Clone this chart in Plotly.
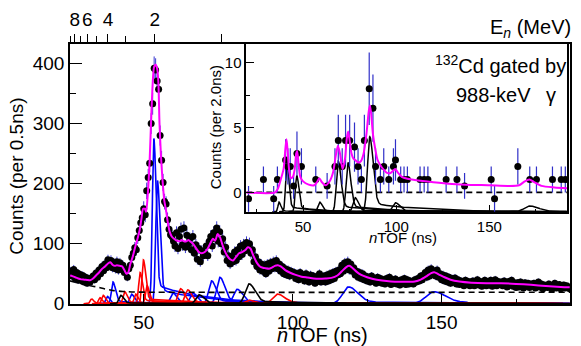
import numpy as np
import plotly.graph_objects as go

# ---------------- main spectrum (0.5 ns bins) ----------------
tof_start = 25.5
tof_step = 0.5
counts = [
    54, 46, 57, 42, 52, 39, 49, 41, 47, 36,
    44, 34, 42, 36, 43, 46, 40, 51, 44, 56,
    50, 62, 55, 66, 60, 73, 64, 72, 60, 68,
    58, 70, 56, 68, 60, 64, 52, 56, 44, 58,
    64, 77, 84, 93, 90, 110, 122, 135, 143, 158,
    148, 188, 210, 234, 300, 333, 392, 389, 371, 357,
    280, 239, 202, 170, 166, 140, 124, 115, 112, 104,
    96, 118, 92, 112, 124, 98, 126, 94, 114, 100,
    108, 90, 112, 84, 98, 74, 92, 70, 88, 80,
    84, 96, 80, 104, 112, 96, 118, 108, 126, 104,
    120, 100, 108, 86, 94, 72, 80, 66, 78, 70,
    86, 72, 90, 78, 96, 82, 98, 88, 102, 92,
    100, 84, 90, 70, 78, 62, 70, 56, 66, 54,
    64, 50, 66, 54, 68, 58, 70, 60, 72, 58,
    66, 54, 62, 50, 58, 48, 56, 46, 54, 50,
    52, 42, 50, 40, 52, 44, 48, 38, 50, 42,
    36, 48, 40, 46, 34, 44, 38, 50, 36, 44,
    46, 36, 48, 38, 50, 40, 52, 42, 54, 48,
    56, 50, 64, 54, 68, 58, 70, 56, 66, 54,
    60, 48, 54, 44, 52, 42, 50, 40, 46, 38,
    44, 36, 46, 38, 42, 34, 44, 36, 42, 34,
    40, 33, 42, 35, 44, 32, 40, 34, 41, 33,
    38, 31, 40, 34, 42, 32, 40, 33, 38, 36,
    33, 40, 36, 42, 38, 46, 40, 48, 52, 44,
    56, 46, 58, 50, 54, 46, 56, 44, 50, 40,
    48, 38, 46, 36, 44, 34, 42, 36, 43, 33,
    40, 32, 38, 34, 30, 39, 33, 37, 30, 36,
    38, 30, 36, 40, 31, 37, 29, 35, 39, 30,
    37, 31, 39, 29, 35, 40, 30, 37, 32, 36,
    30, 38, 33, 28, 37, 31, 39, 29, 35, 27,
    35, 28, 36, 30, 26, 35, 29, 34, 27, 33,
    29, 34, 26, 32, 36, 28, 33, 25, 31, 30,
    27, 33, 28, 24, 31, 34, 26, 30, 32, 25,
    29, 31, 26, 30, 28, 25,
]

# total fit (magenta), sampled
fit_t = [25.3, 26, 27, 28, 29, 30, 31, 32, 33, 34, 35, 36, 37, 38, 38.8, 39.5, 40.3, 41, 42,
         42.8, 43.5, 44.2, 44.8, 45.5, 46.3, 47, 47.8, 48.6, 49.2, 49.8, 50.4, 50.8, 51.4, 52,
         52.6, 53.1, 53.5, 54.0, 54.5, 54.9, 55.3, 55.8, 56.4, 56.9, 57.5, 58.1, 58.7, 59.4,
         60.2, 61, 62, 62.8, 63.5, 64.3, 65, 65.8, 66.5, 67.5, 68.5, 69.5, 70.5, 71.5, 72.5,
         73.2, 74, 74.8, 75.5, 76.3, 77, 78, 79, 80, 81, 82, 83, 84, 85, 85.8, 86.8, 88, 89,
         90, 91, 92, 93, 94, 95, 96, 97.5, 99, 101, 103, 105, 107, 109, 111, 113, 115, 116.5,
         118, 119, 120, 121.5, 123, 125, 127, 130, 133, 136, 139, 141, 143, 145, 146.5, 147.5,
         149, 151, 153, 156, 160, 165, 170, 175, 180, 185, 190, 193]
fit_v = [47, 46, 44, 42, 40.5, 40, 39.5, 39, 42, 47, 52, 58, 62, 67, 69, 65, 63, 64, 63,
         62, 56, 50, 52, 66, 78, 92, 106, 122, 140, 158, 158, 153, 185, 240,
         320, 375, 395, 398, 392, 370, 300, 245, 200, 172, 155, 135, 120, 112,
         108, 105, 104, 106, 104, 104, 106, 103, 100, 93, 86, 84, 86, 92, 102,
         108, 105, 116, 112, 100, 90, 80, 74, 72, 78, 84, 86, 89, 94, 92, 80, 68, 62,
         60, 59, 58, 60, 63, 64, 62, 56, 52, 48, 45, 43.5, 42, 41.5, 42, 43, 47, 54,
         61, 63, 60, 53, 48, 44, 41, 38.5, 37, 36.5, 36.5, 37, 40, 46, 51, 52.5,
         49, 44, 40, 37, 35, 34, 34, 33, 31.5, 29.5, 28, 27.5]

# background (dashed)
bg_t = [25.25, 28, 31, 34.2, 37, 38.8, 40, 43, 46, 50, 60, 193.1]
bg_v = [38, 34.5, 31, 28, 24.5, 22.8, 21.8, 20.3, 19.6, 19.2, 19, 19]

# fit components: centroid (ns), height (counts), width (ns)
blue_t0 = [37.8, 39.7, 45.9, 53.4, 54.6, 59.8, 66.5, 72.8, 75.6, 81.4, 118.8, 147.4]
blue_amp = [12, 36, 16, 275, 205, 18, 18, 38, 44, 24, 28, 20]
blue_sig = [0.5, 0.55, 0.6, 0.5, 0.55, 0.8, 0.9, 1.0, 1.05, 1.2, 2.0, 2.6]

red_t0 = [32.5, 35.3, 36.4, 43.6, 47.3, 48.8, 49.9, 51.1, 62.4, 64.8, 85.3, 94.9]
red_amp = [8, 10, 14, 20, 16, 52, 73, 30, 25, 23, 6, 16]
red_sig = [0.45, 0.45, 0.5, 0.55, 0.5, 0.5, 0.5, 0.5, 0.85, 0.9, 1.2, 1.6]

black_t0 = [42.3, 68.6, 85.4]
black_amp = [14, 15, 33]
black_sig = [0.6, 1.0, 1.3]

# ---------------- inset: 132Cd gated by 988-keV gamma (2 ns bins) ----------------
ins_t = [20.7, 28.7, 34.2, 36.2, 40.6, 41.8, 43.1, 44.9, 46.7, 49.1, 56.8, 62.9, 67.1, 68.9,
         71.0, 72.8, 75.0, 77.6, 79.5, 81.3, 82.9, 85.5, 87.5, 88.9, 91.5, 93.3, 96.0, 98.5,
         99.6, 102.4, 104.2, 106.0, 112.8, 115.0, 117.0, 126.8, 132.6, 136.7, 151.0, 152.8,
         165.3, 171.7, 175.3, 183.9, 188.6, 190.8]
ins_c = [-0.5, 1, -0.5, 1, 2.5, 2, 2, 0.5, 3, 2, 1, 0.5, 2, 4,
         2, 4, 4, 3.5, 2, 1, 4, 8, 6.5, 2, 1, 2, 1, 2,
         2.5, 1, 1, 1, 1, 1, 1, 1, 1, 0.5, 1, -0.5,
         2, 1, 1, 1, 1, 1]
ins_err = [1, 1, 1, 1, 1.6, 1.4, 1.4, 1, 1.7, 1.4, 1, 1, 1.4, 2,
           1.4, 2, 2, 1.9, 1.4, 1, 2, 2.8, 2.6, 1.4, 1, 1.4, 1, 1.4,
           1.6, 1, 1, 1, 1, 1, 1, 1, 1, 1, 1, 1,
           1.4, 1, 1, 1, 1, 1]

ins_fit_t = [19.5, 35, 36.5, 38, 39.5, 40.5, 41.1, 41.8, 42.6, 43.5, 44.5, 45.5, 46.3, 46.8,
             47.5, 48.5, 50, 53, 56, 57.5, 58.7, 60, 62, 64, 66, 67.5, 68.7, 69.8, 71.2, 72.5,
             73.5, 74.2, 75, 76, 77, 78, 79.5, 81, 82.5, 84, 85.3, 85.9, 86.6, 87.5, 88.8, 90,
             91.5, 93, 95, 97, 98.5, 99.5, 101, 103, 106, 110, 120, 130, 140, 150, 160, 166,
             169, 171.5, 174, 178, 185, 191.7]
ins_fit_v = [0, 0, 0.3, 1.0, 1.8, 3.4, 4.1, 3.0, 1.6, 1.1, 1.2, 1.8, 3.0, 3.2,
             2.3, 1.2, 0.85, 0.6, 0.55, 0.8, 1.1, 0.8, 0.55, 0.8, 1.5, 2.8, 3.6, 3.0, 1.8, 2.6,
             4.2, 4.7, 4.0, 3.0, 2.6, 2.5, 2.3, 2.4, 3.0, 4.5, 6.3, 6.7, 6.0, 4.5, 3.3, 2.5,
             2.1, 1.8, 1.5, 1.5, 1.7, 1.8, 1.5, 1.2, 1.05, 0.95, 0.78, 0.65, 0.58, 0.55, 0.5, 0.55,
             0.85, 1.0, 0.8, 0.5, 0.38, 0.32]

ins_comp_t0 = [37.1, 41.3, 46.6, 58.9, 68.9, 74.1, 77.9, 85.8, 99.6, 171.8]
ins_comp_amp = [0.75, 3.7, 2.8, 0.75, 3.9, 3.8, 1.1, 5.8, 0.7, 0.45]
ins_comp_sig = [0.6, 0.7, 0.75, 0.9, 1.0, 1.0, 1.1, 1.2, 1.5, 3.0]
ins_comp_base = -1.5

# top axis: neutron energy labels
E_major = [8, 6, 4, 2, 1]
E_major_txt = ["8", "6", "4", "2", " "]
E_minor = [9, 7, 5, 3]
FLIGHT_NS = 76.0  # t(ns) * sqrt(E/MeV) for the flight path

FONT = "Liberation Sans, Arial, Helvetica, sans-serif"
MAIN_X = [25.25, 193.1]
MAIN_Y = [-0.5, 432.5]
INS_X = [19.5, 191.7]
INS_Y = [-1.55, 11.45]


def line_shape(t, t0, amp, sig):
    d = t - t0
    left = np.exp(-0.5 * (d / sig) ** 2)
    right = 0.88 * np.exp(-0.5 * (d / (1.5 * sig)) ** 2) + 0.12 * np.exp(-np.clip(d, 0, None) / (0.3 * t0))
    return amp * np.where(d < 0, left, right)


def comp_xy(t0s, amps, sigs, xmax, base=0.0, step=0.05):
    xs, ys = [], []
    for t0, a, s in zip(t0s, amps, sigs):
        g = np.arange(t0 - 6 * s, xmax, step)
        xs.extend(g.tolist() + [None])
        ys.extend((base + line_shape(g, t0, a, s)).tolist() + [None])
    return xs, ys


fig = go.Figure()

tof = tof_start + tof_step * np.arange(len(counts))
cnt = np.array(counts, dtype=float)

for t0s, amps, sigs, col in [(blue_t0, blue_amp, blue_sig, "#0000ff"),
                             (red_t0, red_amp, red_sig, "#ff0000"),
                             (black_t0, black_amp, black_sig, "#000000")]:
    xs, ys = comp_xy(t0s, amps, sigs, MAIN_X[1])
    fig.add_trace(go.Scatter(x=xs, y=ys, mode="lines", line=dict(color=col, width=1.6),
                             hoverinfo="skip", showlegend=False, xaxis="x", yaxis="y"))

fig.add_trace(go.Scatter(x=bg_t, y=bg_v, mode="lines", line=dict(color="black", width=1.6, dash="6px,4px", shape="spline"),
                         showlegend=False, xaxis="x", yaxis="y"))

fig.add_trace(go.Scatter(x=tof, y=cnt, mode="markers",
                         marker=dict(color="black", size=7),
                         error_y=dict(type="data", array=np.sqrt(cnt), color="#3a3ad0", thickness=1, width=0),
                         showlegend=False, xaxis="x", yaxis="y"))

fig.add_trace(go.Scatter(x=fit_t, y=fit_v, mode="lines", line=dict(color="#ff00ff", width=2, shape="spline", smoothing=0.7),
                         showlegend=False, xaxis="x", yaxis="y"))

# top axis dummy trace
fig.add_trace(go.Scatter(x=[MAIN_X[0]], y=[-100], mode="markers", marker=dict(opacity=0),
                         showlegend=False, hoverinfo="skip", xaxis="x2", yaxis="y"))

# ---- inset ----
xs, ys = comp_xy(ins_comp_t0, ins_comp_amp, ins_comp_sig, INS_X[1], base=ins_comp_base, step=0.1)
fig.add_trace(go.Scatter(x=xs, y=ys, mode="lines", line=dict(color="black", width=1.5),
                         showlegend=False, hoverinfo="skip", xaxis="x3", yaxis="y3"))
fig.add_trace(go.Scatter(x=INS_X, y=[0, 0], mode="lines", line=dict(color="black", width=1.6, dash="6px,4px"),
                         showlegend=False, xaxis="x3", yaxis="y3"))
fig.add_trace(go.Scatter(x=ins_t, y=ins_c, mode="markers",
                         marker=dict(color="black", size=7),
                         error_y=dict(type="data", array=ins_err, color="#3030c8", thickness=1.2, width=0),
                         showlegend=False, xaxis="x3", yaxis="y3"))
fig.add_trace(go.Scatter(x=ins_fit_t, y=ins_fit_v, mode="lines",
                         line=dict(color="#ff00ff", width=2, shape="spline", smoothing=0.7),
                         showlegend=False, xaxis="x3", yaxis="y3"))

ax_common = dict(showline=True, linecolor="black", linewidth=1.5, mirror=True, showgrid=False,
                 zeroline=False, ticks="inside", tickcolor="black", tickwidth=1)

e_major_t = [FLIGHT_NS / np.sqrt(e) for e in E_major]
e_minor_t = [FLIGHT_NS / np.sqrt(e) for e in E_minor]

fig.update_layout(
    width=581, height=346,
    margin=dict(l=70, r=9, t=34, b=42),
    paper_bgcolor="white", plot_bgcolor="white",
    font=dict(family=FONT, color="black"),
    showlegend=False,
    xaxis=dict(**ax_common, domain=[0, 1], range=MAIN_X, anchor="y",
               tickvals=[50, 100, 150], ticklen=10, tickfont=dict(size=19), tickangle=0,
               minor=dict(tickvals=[75, 125, 175], ticklen=5, ticks="inside", tickcolor="black")),
    yaxis=dict(**ax_common, domain=[0, 1], range=MAIN_Y, anchor="x",
               tickvals=[0, 100, 200, 300, 400], ticklen=12, tickfont=dict(size=19),
               minor=dict(tickvals=[50, 150, 250, 350], ticklen=6, ticks="inside", tickcolor="black")),
    xaxis2=dict(overlaying="x", side="top", range=MAIN_X, anchor="y", showgrid=False, zeroline=False,
                showline=False, ticks="outside", ticklen=9, tickcolor="black", tickwidth=1,
                tickvals=e_major_t, ticktext=E_major_txt, tickfont=dict(size=19), tickangle=0,
                minor=dict(tickvals=e_minor_t, ticklen=7, ticks="outside", tickcolor="black")),
    xaxis3=dict(**ax_common, domain=[0.3526, 0.994], range=INS_X, anchor="y3",
                tickvals=[50, 100, 150], ticklen=8, tickfont=dict(size=15), tickangle=0,
                minor=dict(tickvals=[25, 75, 125, 175], ticklen=4, ticks="inside", tickcolor="black")),
    yaxis3=dict(**ax_common, domain=[0.352, 1.0], range=INS_Y, anchor="x3",
                tickvals=[0, 5, 10], ticklen=8, tickfont=dict(size=15),
                minor=dict(tickvals=[2.5, 7.5], ticklen=4, ticks="inside", tickcolor="black")),
)

ann = [
    dict(text="Counts (per 0.5ns)", x=-0.1076, y=0.49, textangle=-90, font=dict(size=19)),
    dict(text="<i>n</i>TOF (ns)", x=0.505, y=-0.118, font=dict(size=20)),
    dict(text="E<sub><i>n</i></sub> (MeV)", x=1.006, y=1.06, xanchor="right", font=dict(size=20)),
    dict(text="Counts (per 2.0ns)", x=0.291, y=0.678, textangle=-90, font=dict(size=15)),
    dict(text="<i>n</i>TOF (ns)", x=0.665, y=0.256, font=dict(size=15)),
    dict(text="<sup>132</sup>Cd gated by", x=0.861, y=0.922, font=dict(size=20)),
    dict(text="988-keV\u2002 \u03b3", x=0.871, y=0.804, font=dict(size=20)),
]
for a in ann:
    a.setdefault("xanchor", "center")
    fig.add_annotation(xref="paper", yref="paper", showarrow=False, yanchor="middle", **a)

fig.write_html("out.html", config={"displayModeBar": False},
               post_script="document.body.style.margin='0px';document.body.style.overflow='hidden';")
